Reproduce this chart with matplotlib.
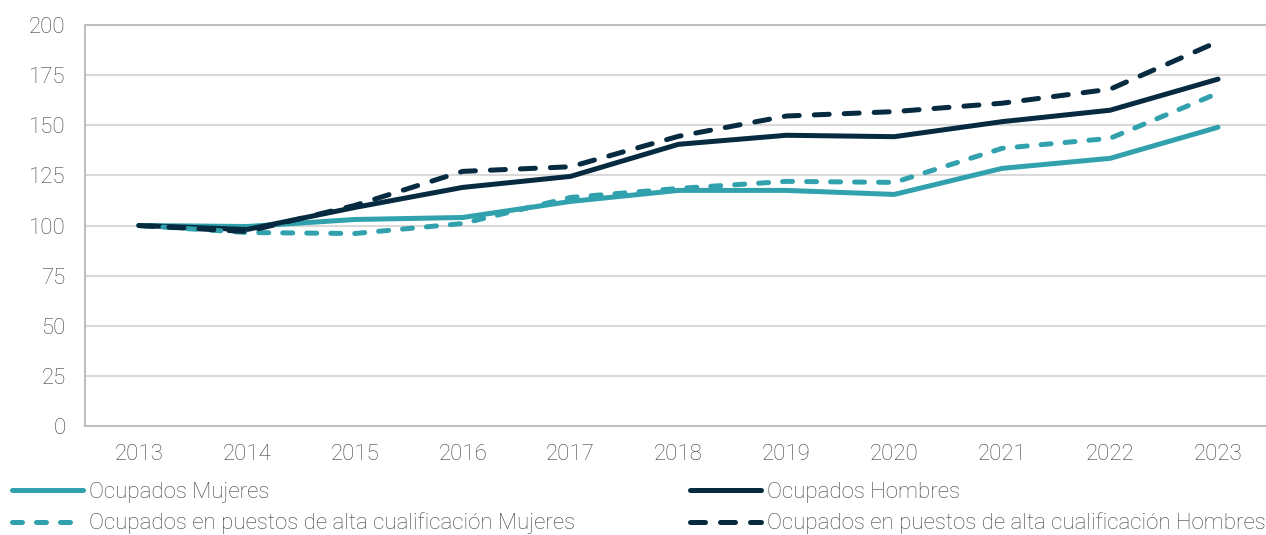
import matplotlib.pyplot as plt

# ==== DATOS (índice 2013 = 100) ====
anios = ["2013", "2014", "2015", "2016", "2017", "2018", "2019", "2020", "2021", "2022", "2023"]
ocup_mujeres = [100, 99.5, 103, 104, 112, 117.5, 117.5, 115.5, 128.5, 133.5, 149]
ocup_hombres = [100, 98, 109, 119, 124.5, 140.5, 145, 144.3, 151.8, 157.5, 173]
alta_mujeres = [100, 96.5, 96, 101, 114, 118.5, 122, 121.5, 138.5, 143.5, 166]
alta_hombres = [100, 97, 110, 127, 129.3, 144.5, 154.6, 156.8, 161, 168, 191.7]
yticks = [0, 25, 50, 75, 100, 125, 150, 175, 200]

teal = "#31a2ad"
navy = "#062a3f"
gris_txt = "#404040"

plt.rcParams['font.family'] = ['Roboto', 'DejaVu Sans']

fig = plt.figure(figsize=(12.66, 5.35), dpi=100)
ax = fig.add_axes([85 / 1266, 1 - 426 / 535, 1187 / 1266, 401 / 535])

x = range(len(anios))
lw = 3.6
# dashes con extremos redondeados (el trazo visible crece ~1 lw)
ax.plot(x, ocup_mujeres, color=teal, lw=lw, solid_capstyle='round', label="Ocupados Mujeres")
ax.plot(x, ocup_hombres, color=navy, lw=lw, solid_capstyle='round', label="Ocupados Hombres")
ax.plot(x, alta_mujeres, color=teal, lw=lw, dashes=(2.0, 2.8), dash_capstyle='round',
        label="Ocupados en puestos de alta cualificación Mujeres")
ax.plot(x, alta_hombres, color=navy, lw=lw, dashes=(3.0, 3.0), dash_capstyle='round',
        label="Ocupados en puestos de alta cualificación Hombres")

ax.set_xlim(-0.5, len(anios) - 0.5)
ax.set_ylim(0, 200)
ax.set_xticks(list(x))
ax.set_xticklabels(anios)
ax.set_yticks(yticks)
ax.tick_params(axis='both', length=0, labelsize=16, labelcolor=gris_txt)
ax.tick_params(axis='x', pad=13)
ax.tick_params(axis='y', pad=14)
for lab in ax.get_xticklabels() + ax.get_yticklabels():
    lab.set_fontweight('light')

ax.grid(axis='y', color="#d9d9d9", lw=1.5)
ax.set_axisbelow(True)
ax.spines['right'].set_visible(False)
for s in ['left', 'top', 'bottom']:
    ax.spines[s].set_color("#bfbfbf")
    ax.spines[s].set_linewidth(1.5)

# Leyenda en dos bloques
h, l = ax.get_legend_handles_labels()
opts = dict(loc='center left', bbox_transform=fig.transFigure, frameon=False,
            handlelength=3.2, handletextpad=0.25, borderpad=0,
            borderaxespad=0, labelspacing=0.45, labelcolor=gris_txt,
            prop={'weight': 'light', 'size': 16})
leg1 = ax.legend([h[0], h[2]], [l[0], l[2]], bbox_to_anchor=(12 / 1266, 1 - 508 / 535), **opts)
ax.add_artist(leg1)
ax.legend([h[1], h[3]], [l[1], l[3]], bbox_to_anchor=(690 / 1266, 1 - 508 / 535), **opts)

fig.savefig("out.png", dpi=100)
